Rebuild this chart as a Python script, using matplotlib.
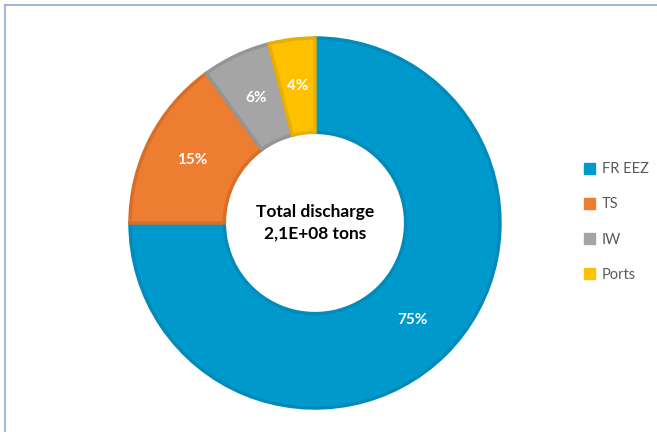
import matplotlib
matplotlib.use("Agg")
import matplotlib.pyplot as plt
from matplotlib.lines import Line2D

categories = ["FR EEZ", "TS", "IW", "Ports"]
values = [75, 15, 6, 4]
colors = ["#0099CC", "#ED7D31", "#A5A5A5", "#FFC000"]
edge_colors = ["#008BBB", "#D96F27", "#959595", "#E8AE00"]
center_text = "Total discharge\n2,1E+08 tons"

plt.rcParams['font.family'] = ['Lato', 'DejaVu Sans']

W, H = 657, 432
fig = plt.figure(figsize=(W / 100, H / 100), dpi=100)
fig.patch.set_facecolor("white")

cx, cy, R = 315, 223, 185
ax = fig.add_axes([(cx - R) / W, (H - cy - R) / H, 2 * R / W, 2 * R / H])
wedges, texts, autotexts = ax.pie(
    values, colors=colors, startangle=90, counterclock=False,
    radius=1, autopct=lambda p: f"{p:.0f}%", pctdistance=0.745,
    wedgeprops=dict(width=0.51, linewidth=2.5),
    textprops=dict(color="white", fontsize=11, fontweight="bold"))
for w, ec in zip(wedges, edge_colors):
    w.set_edgecolor(ec)
    w.set_joinstyle("miter")
ax.set_xlim(-1.0, 1.0)
ax.set_ylim(-1.0, 1.0)
ax.set_aspect("equal")
ax.axis("off")

ax.text(0, 0, center_text, ha="center", va="center", fontsize=12.5,
        fontweight="bold", color="black", linespacing=1.45)

handles = [plt.Rectangle((0, 0), 1, 1, facecolor=c, edgecolor=c) for c in colors]
leg = fig.legend(handles, categories, loc="center left",
                 bbox_to_anchor=(571 / W, 1 - 222 / H), frameon=False,
                 fontsize=10.5, labelcolor="#595959", handlelength=0.75,
                 handleheight=0.75, handletextpad=0.45, labelspacing=1.45)

# border lines
fig.add_artist(Line2D([5 / W, 1], [1 - 5 / H, 1 - 5 / H], color="#8EA9DB",
                      linewidth=1.2, transform=fig.transFigure))
fig.add_artist(Line2D([5 / W, 5 / W], [0, 1 - 5 / H], color="#8EA9DB",
                      linewidth=1.2, transform=fig.transFigure))

fig.savefig("out.png", dpi=100, facecolor="white")
